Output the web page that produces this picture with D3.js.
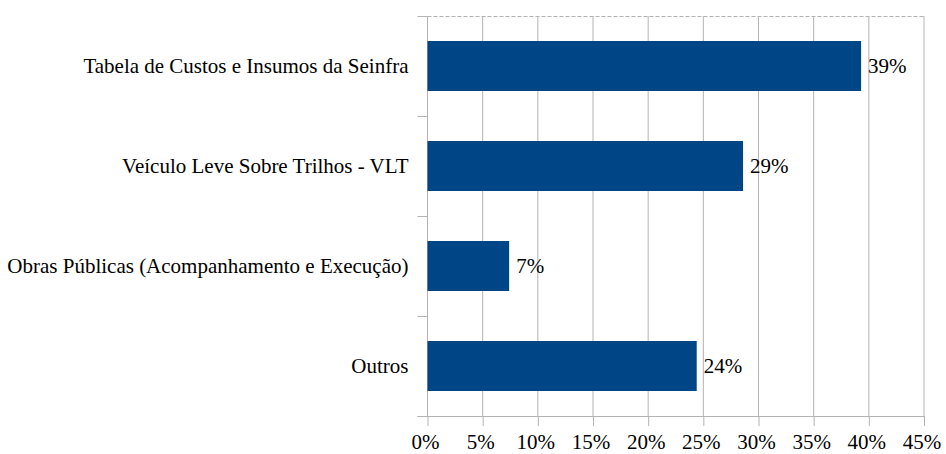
<!DOCTYPE html>
<html>
<head>
<meta charset="utf-8">
<script src="https://cdn.jsdelivr.net/npm/d3@7"></script>
</head>
<body style="margin:0">
<svg id="graph" width="946" height="454"></svg>
<script>
// data
let categories = [
    "Tabela de Custos e Insumos da Seinfra",
    "Veículo Leve Sobre Trilhos - VLT",
    "Obras Públicas (Acompanhamento e Execução)",
    "Outros"
];
let values = [39.3, 28.6, 7.4, 24.4];
let valueLabels = ["39%", "29%", "7%", "24%"];
let xTicks = [0, 5, 10, 15, 20, 25, 30, 35, 40, 45];

let fontFamily = "Liberation Serif";
let fontSize = 21;

let margin = { left: 427.5, right: 22, top: 16, bottom: 38 };
let width = 946, height = 454;

let svg = d3.select("#graph");

let x = d3.scaleLinear()
    .domain([0, 45])
    .range([margin.left, width - margin.right]);

let y = d3.scaleBand()
    .domain(categories)
    .range([margin.top, height - margin.bottom])
    .paddingInner(0.5)
    .paddingOuter(0.25);

let gridColor = "#b3b3b3";

//vertical gridlines
svg.append("g")
    .selectAll("line")
    .data(xTicks.slice(1))
    .enter()
    .append("line")
    .attr("x1", d => x(d))
    .attr("x2", d => x(d))
    .attr("y1", margin.top)
    .attr("y2", height - margin.bottom)
    .attr("stroke", gridColor);

//dashed top border
svg.append("line")
    .attr("x1", x(0))
    .attr("x2", x(45))
    .attr("y1", margin.top + 0.5)
    .attr("y2", margin.top + 0.5)
    .attr("stroke", gridColor)
    .attr("stroke-dasharray", "4,2");

//bottom axis
let xAxis = d3.axisBottom(x)
    .tickValues(xTicks)
    .tickSize(10)
    .tickPadding(0)
    .tickFormat(d => d + "%");

let gx = svg.append("g")
    .attr("transform", "translate(0," + (height - margin.bottom) + ")")
    .call(xAxis);
gx.select(".domain").attr("stroke", gridColor).attr("d", "M" + (x(0) - 10) + ",0.5H" + x(45));
gx.selectAll(".tick line").attr("stroke", gridColor);
gx.selectAll(".tick text")
    .attr("y", 33)
    .attr("dy", null)
    .attr("dx", -2.5)
    .attr("fill", "#000")
    .attr("font-family", fontFamily)
    .attr("font-size", fontSize);

//left axis with ticks on category boundaries
let boundaries = d3.range(categories.length + 1).map(i => margin.top + i * y.step());

svg.append("line")
    .attr("x1", x(0))
    .attr("x2", x(0))
    .attr("y1", margin.top)
    .attr("y2", height - margin.bottom)
    .attr("stroke", gridColor);

svg.append("g")
    .selectAll("line")
    .data(boundaries)
    .enter()
    .append("line")
    .attr("x1", x(0) - 10)
    .attr("x2", x(0))
    .attr("y1", d => Math.round(d) + 0.5)
    .attr("y2", d => Math.round(d) + 0.5)
    .attr("stroke", gridColor);

//category labels
svg.append("g")
    .selectAll("text")
    .data(categories)
    .enter()
    .append("text")
    .attr("x", x(0) - 19)
    .attr("y", d => y(d) + y.bandwidth() / 2 + 7)
    .attr("text-anchor", "end")
    .attr("font-family", fontFamily)
    .attr("font-size", fontSize)
    .text(d => d);

//bars
svg.append("g")
    .selectAll("rect")
    .data(values)
    .enter()
    .append("rect")
    .attr("x", x(0))
    .attr("y", (d, i) => y(categories[i]))
    .attr("width", d => x(d) - x(0))
    .attr("height", y.bandwidth())
    .attr("fill", "#004586");

//value labels
svg.append("g")
    .selectAll("text")
    .data(values)
    .enter()
    .append("text")
    .attr("x", d => x(d) + 7)
    .attr("y", (d, i) => y(categories[i]) + y.bandwidth() / 2 + 7)
    .attr("font-family", fontFamily)
    .attr("font-size", fontSize)
    .text((d, i) => valueLabels[i]);
</script>
</body>
</html>
